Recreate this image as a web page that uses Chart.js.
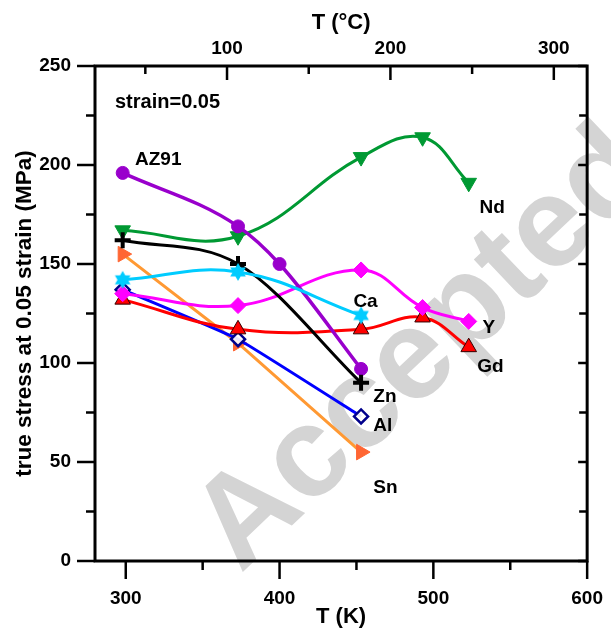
<!DOCTYPE html>
<html><head><meta charset="utf-8">
<script src="https://cdn.jsdelivr.net/npm/chart.js@4/dist/chart.umd.min.js"></script>
<style>html,body{margin:0;padding:0;background:#fff;}#wrap{width:611px;height:640px;}</style>
</head><body><div id="wrap"><canvas id="c" width="611" height="640"></canvas></div>
<script>
// ---- data (T in K, true stress in MPa) ----
const T_AZ91 = [298, 373, 400, 453];            const S_AZ91 = [196, 169, 150, 97];
const T_Nd   = [298, 373, 453, 493, 523];       const S_Nd   = [167, 164, 204, 214, 191];
const T_Zn   = [298, 373, 453];                 const S_Zn   = [162, 150, 90];
const T_Ca   = [298, 373, 453];                 const S_Ca   = [142, 146, 124];
const T_Y    = [298, 373, 453, 493, 523];       const S_Y    = [135, 129, 147, 128, 121];
const T_Gd   = [298, 373, 453, 493, 523];       const S_Gd   = [132, 117, 117, 123, 108];
const T_Al   = [298, 373, 453];                 const S_Al   = [137, 112, 73];
const T_Sn   = [298, 373, 453];                 const S_Sn   = [155, 110, 55];
// ---- ticks ----
const xTicksK = [300, 400, 500, 600];  const xMinorK = [350, 450, 550];
const xTicksC = [100, 200, 300];       const xMinorC = [50, 150, 250];
const yTicks  = [0, 50, 100, 150, 200, 250]; const yMinor = [25, 75, 125, 175, 225];
// ---- annotation texts (anchored in data coordinates) ----
const labelText = ['strain=0.05', 'AZ91', 'Nd', 'Ca', 'Y', 'Gd', 'Zn', 'Al', 'Sn'];
const labelT    = [293, 306, 530, 448, 532, 528.5, 461, 461, 461];
const labelS    = [229, 200, 176, 128.4, 115.2, 95.6, 80.5, 65.8, 34.2];

const pts = (T, S) => T.map((t, i) => ({x: t, y: S[i]}));
function makeStar(color, R) {
  const c = document.createElement('canvas');
  const s = Math.ceil(R * 2 + 2); c.width = s; c.height = s;
  const g = c.getContext('2d'); g.translate(s / 2, s / 2); g.beginPath();
  for (let i = 0; i < 12; i++) {
    const r = i % 2 === 0 ? R : R / Math.sqrt(3);
    const a = -Math.PI / 2 + i * Math.PI / 6;
    g.lineTo(r * Math.cos(a), r * Math.sin(a));
  }
  g.closePath(); g.fillStyle = color; g.fill(); return c;
}
const FONT = "'Liberation Sans', Arial, sans-serif";
Chart.defaults.font.family = FONT;
Chart.defaults.color = '#000';

const frame = {
  id: 'frame',
  beforeDatasetsDraw(chart) {
    const ctx = chart.ctx; ctx.save();
    ctx.translate(422, 347); ctx.rotate(-43.5 * Math.PI / 180);
    ctx.font = "bold 128px " + FONT; ctx.fillStyle = '#d4d4d4';
    ctx.textAlign = 'center'; ctx.textBaseline = 'alphabetic';
    ctx.fillText('Accepted', 0, 40);
    ctx.restore();
  },
  afterDatasetsDraw(chart) {
    const {ctx, scales: {x, y}} = chart; ctx.save();
    ctx.fillStyle = '#000'; ctx.textAlign = 'left'; ctx.textBaseline = 'alphabetic';
    labelText.forEach((t, i) => {
      ctx.font = (i === 0 ? 'bold 20px ' : 'bold 19px ') + FONT;
      ctx.fillText(t, x.getPixelForValue(labelT[i]), y.getPixelForValue(labelS[i]));
    });
    ctx.restore();
  },
  afterDraw(chart) {
    const {ctx, chartArea: a, scales: {x, x2, y}} = chart; ctx.save();
    ctx.strokeStyle = '#000'; ctx.lineWidth = 2.5;
    const L = (x1, y1, xx, yy) => { ctx.beginPath(); ctx.moveTo(x1, y1); ctx.lineTo(xx, yy); ctx.stroke(); };
    xTicksK.forEach(v => { const p = x.getPixelForValue(v); L(p, a.bottom, p, a.bottom + 18); });
    xMinorK.forEach(v => { const p = x.getPixelForValue(v); L(p, a.bottom, p, a.bottom + 9); });
    xTicksC.forEach(v => { const p = x2.getPixelForValue(v); L(p, a.top, p, a.top + 14); });
    xMinorC.forEach(v => { const p = x2.getPixelForValue(v); L(p, a.top, p, a.top + 8); });
    yTicks.forEach(v => { const p = y.getPixelForValue(v); L(a.left - 18, p, a.left, p); L(a.right, p, a.right - 9, p); });
    yMinor.forEach(v => { const p = y.getPixelForValue(v); L(a.left - 9, p, a.left, p); L(a.right, p, a.right - 8, p); });
    ctx.lineWidth = 3;
    ctx.strokeRect(a.left, a.top, a.right - a.left, a.bottom - a.top);
    ctx.restore();
  }
};

const smooth = 0.4;
const datasets = [
  {label: 'Ca', data: pts(T_Ca, S_Ca), borderColor: '#00ccff', borderWidth: 3, tension: smooth,
   pointStyle: makeStar('#00ccff', 9), pointRadius: 8},
  {label: 'Zn', data: pts(T_Zn, S_Zn), borderColor: '#000', borderWidth: 3, cubicInterpolationMode: 'monotone',
   pointStyle: 'cross', pointRadius: 8, pointBorderWidth: 4, pointBorderColor: '#000', pointBackgroundColor: '#000'},
  {label: 'AZ91', data: pts(T_AZ91, S_AZ91), borderColor: '#9900cc', borderWidth: 3.5, cubicInterpolationMode: 'monotone',
   pointStyle: 'circle', pointRadius: 6.5, pointBackgroundColor: '#9900cc', pointBorderColor: '#9900cc', pointBorderWidth: 1},
  {label: 'Nd', data: pts(T_Nd, S_Nd), borderColor: '#009933', borderWidth: 3, tension: smooth,
   pointStyle: 'triangle', pointRotation: 180, pointRadius: 9, pointBackgroundColor: '#009933', pointBorderColor: '#009933', pointBorderWidth: 1},
  {label: 'Y', data: pts(T_Y, S_Y), borderColor: '#ff00ff', borderWidth: 3, tension: smooth,
   pointStyle: 'rectRot', pointRadius: 8, pointBackgroundColor: '#ff00ff', pointBorderColor: '#ff00ff', pointBorderWidth: 1},
  {label: 'Gd', data: pts(T_Gd, S_Gd), borderColor: '#ff0000', borderWidth: 3, tension: smooth,
   pointStyle: 'triangle', pointRadius: 9, pointBackgroundColor: '#ff0000', pointBorderColor: '#330000', pointBorderWidth: 1},
  {label: 'Al', data: pts(T_Al, S_Al), borderColor: '#0000ff', borderWidth: 3, tension: 0.1,
   pointStyle: 'rectRot', pointRadius: 7, pointBackgroundColor: 'rgba(255,255,255,0.9)', pointBorderColor: '#00008b', pointBorderWidth: 2.5},
  {label: 'Sn', data: pts(T_Sn, S_Sn), borderColor: '#ff9933', borderWidth: 3, tension: 0,
   pointStyle: 'triangle', pointRotation: 90, pointRadius: 9, pointBackgroundColor: '#ff6633', pointBorderColor: '#ff6633', pointBorderWidth: 1}
];

new Chart(document.getElementById('c'), {
  type: 'line',
  data: {datasets},
  options: {
    responsive: false, animation: false, devicePixelRatio: 1,
    layout: {padding: {left: 0, right: 19, top: 0, bottom: 0}},
    plugins: {legend: {display: false}, tooltip: {enabled: false}},
    elements: {line: {fill: false}},
    scales: {
      x: {type: 'linear', position: 'bottom', min: 280, max: 600,
        afterBuildTicks: s => { s.ticks = xTicksK.map(v => ({value: v})); },
        afterFit: s => { s.height = 79; },
        grid: {display: true, drawOnChartArea: false, drawTicks: true, tickLength: 18, color: 'rgba(0,0,0,0)'},
        border: {display: false},
        ticks: {font: {size: 19, weight: 'bold'}, padding: 8, maxRotation: 0, color: '#000'},
        title: {display: true, text: 'T (K)', font: {size: 22, weight: 'bold'}, padding: {top: 0, bottom: 10}, color: '#000'}},
      x2: {type: 'linear', position: 'top', min: 19.2, max: 320.4,
        afterBuildTicks: s => { s.ticks = xTicksC.map(v => ({value: v})); },
        afterFit: s => { s.height = 66; },
        grid: {display: true, drawOnChartArea: false, drawTicks: false, color: 'rgba(0,0,0,0)'},
        border: {display: false},
        ticks: {font: {size: 19, weight: 'bold'}, padding: 6, maxRotation: 0, color: '#000'},
        title: {display: true, text: 'T (°C)', font: {size: 22, weight: 'bold'}, padding: {top: 10, bottom: 0}, color: '#000'}},
      y: {type: 'linear', position: 'left', min: 0, max: 250,
        afterBuildTicks: s => { s.ticks = yTicks.map(v => ({value: v})); },
        afterFit: s => { s.width = 95; },
        grid: {display: true, drawOnChartArea: false, drawTicks: true, tickLength: 18, color: 'rgba(0,0,0,0)'},
        border: {display: false},
        ticks: {font: {size: 19, weight: 'bold'}, padding: 6, color: '#000'},
        title: {display: true, text: 'true stress at 0.05 strain (MPa)', font: {size: 22.5, weight: 'bold'}, padding: {top: 11, bottom: 0}, color: '#000'}}
    }
  },
  plugins: [frame]
});
</script></body></html>
